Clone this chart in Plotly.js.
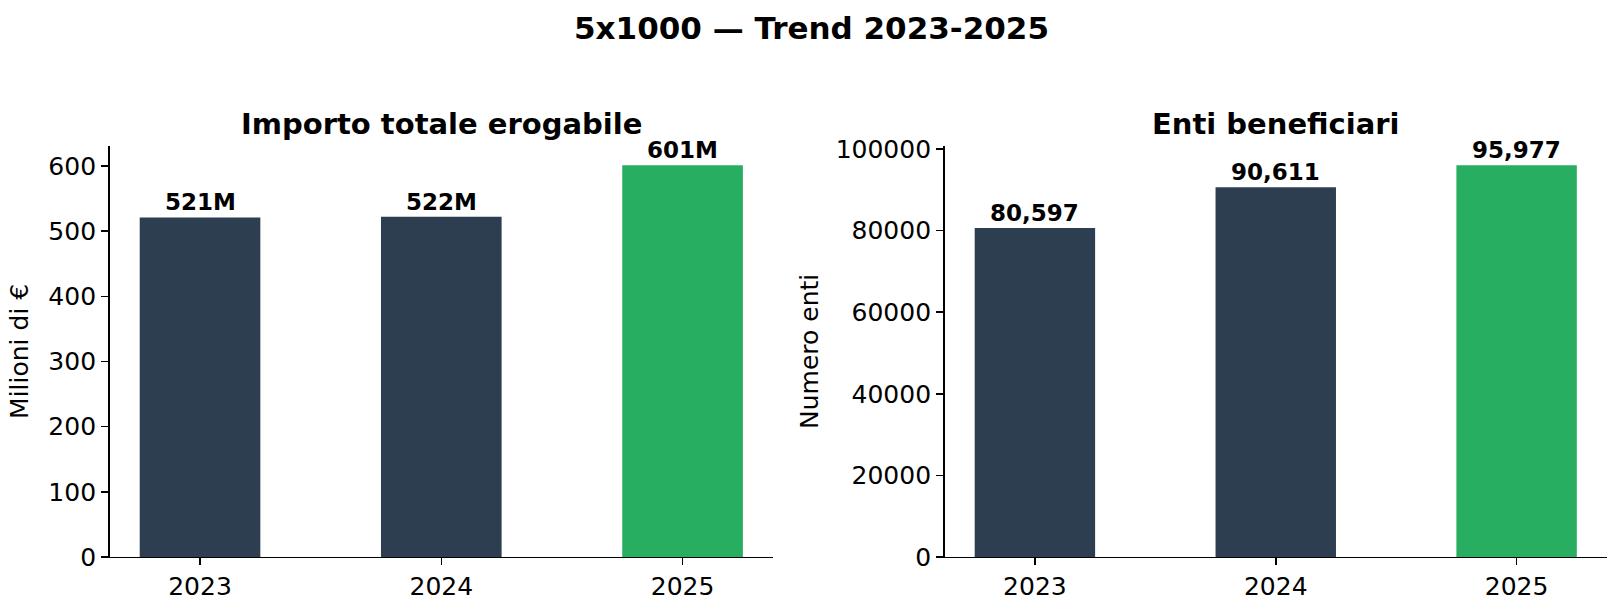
<!DOCTYPE html>
<html>
<head>
<meta charset="utf-8">
<script src="https://cdn.plot.ly/plotly-3.0.1.min.js"></script>
<style>
  html, body { margin: 0; padding: 0; background: #ffffff; }
  #chart { width: 1623px; height: 612px; }
</style>
</head>
<body>
<div id="chart"></div>
<script>
// 5x1000 - trend 2023-2025, two panels
const years = ['2023', '2024', '2025'];
const importoMilioni = [521, 522, 601];
const importoLabels = ['521M', '522M', '601M'];
const entiBeneficiari = [80597, 90611, 95977];
const entiLabels = ['80,597', '90,611', '95,977'];
const barColors = ['#2c3e50', '#2c3e50', '#27ae60'];

const FONT = 'DejaVu Sans, sans-serif';

// value labels over the bars (x given as category index, '2023' would be read as a number)
function makeAnnotations(values, labels, xref, yref) {
    return values.map((v, i) => ({
        x: i, y: v, xref: xref, yref: yref,
        text: '<b>' + labels[i] + '</b>',
        showarrow: false, yanchor: 'bottom', yshift: 0,
        font: { family: FONT, size: 23, color: '#000000' }
    }));
}

const data = [
    {
        type: 'bar', x: years, y: importoMilioni,
        xaxis: 'x', yaxis: 'y',
        width: 0.5,
        marker: { color: barColors, line: { width: 0 } },
        hoverinfo: 'x+y'
    },
    {
        type: 'bar', x: years, y: entiBeneficiari,
        xaxis: 'x2', yaxis: 'y2',
        width: 0.5,
        marker: { color: barColors, line: { width: 0 } },
        hoverinfo: 'x+y'
    }
];

const axisCommon = {
    showgrid: false,
    zeroline: false,
    showline: true,
    linecolor: '#000000',
    linewidth: 1.5,
    ticks: 'outside',
    ticklen: 7,
    tickwidth: 1.5,
    tickcolor: '#000000',
    tickfont: { family: FONT, size: 25, color: '#000000' },
    fixedrange: true
};

const layout = {
    width: 1623,
    height: 612,
    margin: { l: 0, r: 0, t: 0, b: 0 },
    paper_bgcolor: '#ffffff',
    plot_bgcolor: '#ffffff',
    showlegend: false,
    font: { family: FONT, color: '#000000' },
    title: {
        text: '<b>5x1000 — Trend 2023-2025</b>',
        font: { family: FONT, size: 31, color: '#000000' },
        x: 0.5, xanchor: 'center',
        y: 1 - 28 / 612, yanchor: 'middle', yref: 'paper'
    },
    xaxis: Object.assign({}, axisCommon, {
        domain: [0.0675, 0.4763],
        type: 'category',
        range: [-0.375, 2.375],
        anchor: 'y'
    }),
    yaxis: Object.assign({}, axisCommon, {
        domain: [0.0899, 0.7618],
        range: [0, 601 * 1.05],
        tickvals: [0, 100, 200, 300, 400, 500, 600],
        anchor: 'x',
        title: { text: 'Milioni di €', font: { family: FONT, size: 25, color: '#000000' }, standoff: 12 }
    }),
    xaxis2: Object.assign({}, axisCommon, {
        domain: [0.582, 0.9901],
        type: 'category',
        range: [-0.375, 2.375],
        anchor: 'y2'
    }),
    yaxis2: Object.assign({}, axisCommon, {
        domain: [0.0899, 0.7618],
        range: [0, 95977 * 1.05],
        tickvals: [0, 20000, 40000, 60000, 80000, 100000],
        ticktext: ['0', '20000', '40000', '60000', '80000', '100000'],
        anchor: 'x2',
        title: { text: 'Numero enti', font: { family: FONT, size: 25, color: '#000000' }, standoff: 10 }
    }),
    annotations: [
        {
            text: '<b>Importo totale erogabile</b>', xref: 'paper', yref: 'paper',
            x: (0.0675 + 0.4763) / 2, y: 1 - 124 / 612, xanchor: 'center', yanchor: 'middle',
            showarrow: false, font: { family: FONT, size: 29, color: '#000000' }
        },
        {
            text: '<b>Enti beneficiari</b>', xref: 'paper', yref: 'paper',
            x: (0.582 + 0.9901) / 2, y: 1 - 124 / 612, xanchor: 'center', yanchor: 'middle',
            showarrow: false, font: { family: FONT, size: 29, color: '#000000' }
        }
    ].concat(
        makeAnnotations(importoMilioni, importoLabels, 'x', 'y'),
        makeAnnotations(entiBeneficiari, entiLabels, 'x2', 'y2')
    )
};

Plotly.newPlot('chart', data, layout, { displayModeBar: false, staticPlot: true });
</script>
</body>
</html>
